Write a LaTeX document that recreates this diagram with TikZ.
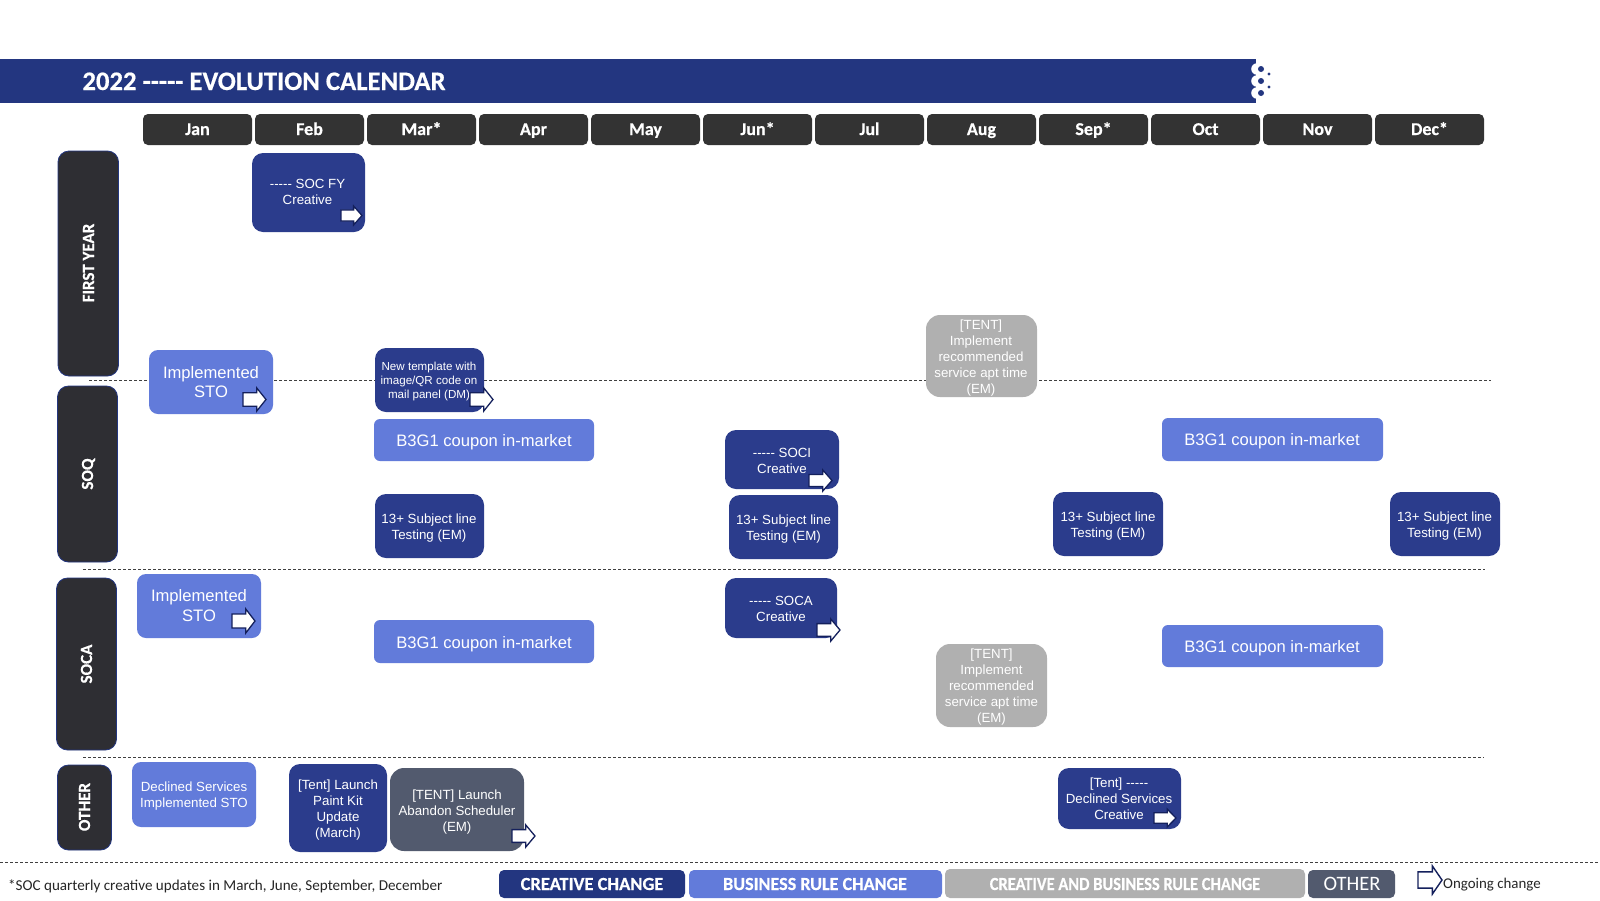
\documentclass[tikz,border=0pt]{standalone}
\usepackage{fontspec}
\newfontfamily\arl{Liberation Sans}
\newfontfamily\carl{Carlito}[BoldFeatures={FakeBold=0.5}]
\setmainfont{Liberation Sans}
\definecolor{navy}{HTML}{2B3C8C}
\definecolor{barblue}{HTML}{233680}
\definecolor{midblue}{HTML}{627BDA}
\definecolor{greybox}{HTML}{B0B0B0}
\definecolor{slatebox}{HTML}{525A6E}
\definecolor{darkbox}{HTML}{333333}
\definecolor{sidebox}{HTML}{2E2E33}
\definecolor{arrowline}{HTML}{14205C}
\tikzset{
  navybox/.style={rounded corners=11pt,fill=navy},
  bluebox/.style={rounded corners=9pt,fill=midblue},
  couponbox/.style={rounded corners=6pt,fill=midblue},
  greyfill/.style={rounded corners=14pt,fill=greybox},
  slatefill/.style={rounded corners=14pt,fill=slatebox},
  monthbox/.style={rounded corners=5pt,fill=darkbox},
  sidefill/.style={rounded corners=11pt,fill=sidebox,draw=barblue,line width=0.8pt},
  boxtext/.style={text=white,align=center,inner sep=0pt,yshift=-1.5pt,font=\arl\fontsize{13.3}{16}\selectfont},
  smalltext/.style={boxtext,font=\arl\fontsize{11.6}{14}\selectfont},
  largetext/.style={boxtext,yshift=1.5pt,font=\arl\fontsize{16.6}{19.6}\selectfont},
  coupontext/.style={boxtext,font=\arl\fontsize{16.6}{20}\selectfont},
  monthtext/.style={text=white,inner sep=0pt,text height=12pt,text depth=0pt,font=\carl\bfseries\fontsize{18}{20}\selectfont},
  sidetext/.style={text=white,inner sep=0pt,rotate=90,text height=12pt,text depth=0pt,font=\carl\bfseries\fontsize{17}{20}\selectfont},
  legendtext/.style={text=white,inner sep=0pt,text height=12pt,text depth=0pt,font=\carl\fontsize{18.5}{20}\selectfont},
  notetext/.style={text=black!85,inner sep=0pt,text height=10pt,text depth=0pt,font=\carl\fontsize{15.1}{16}\selectfont},
  divider/.style={draw=black!75,line width=0.7pt,dash pattern=on 3.2pt off 1.8pt},
  flowarrow/.style={draw=arrowline,fill=white,line width=1.3pt,line join=miter},
  openarrow/.style={draw=arrowline,fill=white,line width=1.4pt,line join=miter},
}
% \bx{style}{x1}{y1}{x2}{y2}
\newcommand{\bx}[5]{\path[#1] (#2,#3) rectangle (#4,#5);}
% \flow{style}{x1}{y1}{x2}{y2}
\newcommand{\flow}[5]{%
  \draw[#1] (#2,{#3+(#5-#3)*0.21}) -- ({#2+(#4-#2)*0.6},{#3+(#5-#3)*0.21})
    -- ({#2+(#4-#2)*0.6},#3) -- (#4,{(#3+#5)/2})
    -- ({#2+(#4-#2)*0.6},#5) -- ({#2+(#4-#2)*0.6},{#3+(#5-#3)*0.79})
    -- (#2,{#3+(#5-#3)*0.79}) -- cycle;
}
\begin{document}
\begin{tikzpicture}[x=1pt,y=-1pt]
\useasboundingbox (0,0) rectangle (1600,900);
\fill[white] (0,0) rectangle (1600,900);

% dividers
\coordinate (d1a) at (89,380);  \coordinate (d1b) at (1491,380);
\coordinate (d2a) at (83,569);  \coordinate (d2b) at (1485,569);
\coordinate (d3a) at (83,757);  \coordinate (d3b) at (1484,757);
\coordinate (d4a) at (0,862);   \coordinate (d4b) at (1600,862);
\draw[divider] (d1a) -- (d1b);
\draw[divider] (d2a) -- (d2b);
\draw[divider] (d3a) -- (d3b);
\draw[divider] (d4a) -- (d4b);

% title bar
\fill[barblue] (0,59) rectangle (1256,103);
\foreach \yy in {69,81,93}{
  \fill[white] (1257,\yy) circle (5.8);
  \fill[barblue] (1261,\yy) circle (3);
}
\fill[barblue] (1269,74) circle (1.6);
\fill[barblue] (1269,87) circle (1.6);
\node[text=white,inner sep=0pt,text height=17pt,text depth=0pt,font=\carl\bfseries\fontsize{26.7}{28}\selectfont] (title) at (264,81.5) {2022 ----- EVOLUTION CALENDAR};

% months
\foreach \nm [count=\ii from 0] in {Jan,Feb,Mar*,Apr,May,Jun*,Jul,Aug,Sep*,Oct,Nov,Dec*}{
  \pgfmathsetmacro{\xa}{143+112*\ii}
  \pgfmathsetmacro{\xb}{\xa+109}
  \pgfmathsetmacro{\xc}{\xa+54.5}
  \path[monthbox] (\xa,114) rectangle (\xb,145);
  \node[monthtext] (month\ii) at (\xc,129) {\nm};
}

% side labels
\bx{sidefill}{58}{151}{118.5}{376}
\bx{sidefill}{57.5}{386}{117.5}{562}
\bx{sidefill}{56.5}{578}{116.5}{750}
\bx{sidefill}{57.5}{765}{111.5}{850}
\node[sidetext] (lFY) at (88,263) {FIRST YEAR};
\node[sidetext] (lSOQ) at (87,474) {SOQ};
\node[sidetext] (lSOCA) at (86,664) {SOCA};
\node[sidetext] (lOTH) at (84,807) {OTHER};

% FIRST YEAR row
\bx{navybox}{252}{153}{365}{232}
\node[boxtext] (socfy) at (307.5,190.5) {----- SOC FY\\Creative};
\flow{flowarrow}{341}{206}{362}{225}

\bx{greyfill}{926}{315}{1037}{397}
\node[boxtext] (tent1) at (981,357) {[TENT]\\Implement\\recommended\\service apt time\\(EM)};

% SOQ row
\bx{bluebox}{149}{350}{273}{414}
\node[largetext] (sto1) at (211,382) {Implemented\\STO};
\flow{flowarrow}{243}{388}{266}{411}

\bx{navybox}{375}{348}{484}{412}
\node[smalltext,yshift=1pt] (tmpl) at (429,380.5) {New template with\\image/QR code on\\mail panel (DM)};
\flow{flowarrow}{470}{388}{493}{411}

\bx{couponbox}{374}{419}{594}{461}
\node[coupontext] (cp1) at (484,440.5) {B3G1 coupon in-market};
\bx{couponbox}{1162}{418}{1383}{461}
\node[coupontext] (cp2) at (1272,439.5) {B3G1 coupon in-market};

\bx{navybox}{375}{494}{484}{558}
\node[boxtext] (sl1) at (429,527) {13+ Subject line\\Testing (EM)};
\bx{navybox}{725}{430}{839}{489}
\node[boxtext] (soci) at (782,459.5) {----- SOCI\\Creative};
\flow{flowarrow}{809}{470}{832}{491}
\bx{navybox}{729}{495}{838}{559}
\node[boxtext] (sl2) at (783.5,527.5) {13+ Subject line\\Testing (EM)};
\bx{navybox}{1053}{492}{1163}{556}
\node[boxtext] (sl3) at (1108,524.5) {13+ Subject line\\Testing (EM)};
\bx{navybox}{1390}{492}{1500}{556}
\node[boxtext] (sl4) at (1444.5,524.5) {13+ Subject line\\Testing (EM)};

% SOCA row
\bx{bluebox}{137}{574}{261}{638}
\node[largetext] (sto2) at (199,605.6) {Implemented\\STO};
\flow{flowarrow}{232}{609}{255}{633}
\bx{navybox}{725}{578}{837}{638}
\node[boxtext] (soca) at (781,607) {----- SOCA\\Creative};
\flow{flowarrow}{817}{619}{840}{641}
\bx{couponbox}{374}{620}{594}{663}
\node[coupontext] (cp3) at (484,642.5) {B3G1 coupon in-market};
\bx{couponbox}{1162}{625}{1383}{667}
\node[coupontext] (cp4) at (1272,646.5) {B3G1 coupon in-market};
\bx{greyfill}{936}{644}{1047}{727}
\node[boxtext] (tent2) at (991.5,686) {[TENT]\\Implement\\recommended\\service apt time\\(EM)};

% OTHER row
\bx{bluebox}{132}{762}{256}{827}
\node[boxtext] (decl) at (194,795) {Declined Services\\Implemented STO};
\bx{navybox}{289}{764}{387}{852}
\node[boxtext] (paint) at (338,809) {[Tent] Launch\\Paint Kit\\Update\\(March)};
\bx{slatefill}{390}{768}{524}{851}
\node[boxtext] (aband) at (457,811) {[TENT] Launch\\Abandon Scheduler\\(EM)};
\flow{flowarrow}{512}{825}{535}{847}
\bx{navybox}{1058}{768}{1181}{829}
\node[boxtext] (tdecl) at (1119,797) {[Tent] -----\\Declined Services\\Creative};
\flow{flowarrow}{1154}{809}{1176}{827}

% legend
\node[notetext,anchor=west] (foot) at (8,885) {*SOC quarterly creative updates in March, June, September, December};
\path[rounded corners=5pt,fill=barblue] (499,870) rectangle (685,898);
\node[legendtext] (l1) at (592,884) {\bfseries CREATIVE CHANGE};
\path[rounded corners=5pt,fill=midblue] (689,870) rectangle (942,898);
\node[legendtext] (l2) at (815,884) {\bfseries\scalebox{0.98}[1]{BUSINESS RULE CHANGE}};
\path[rounded corners=5pt,fill=greybox] (945,869) rectangle (1305,898);
\node[legendtext] (l3) at (1125,884) {\bfseries\scalebox{0.89}[1]{CREATIVE AND BUSINESS RULE CHANGE}};
\path[rounded corners=5pt,fill=slatebox] (1308,870) rectangle (1395,898);
\node[legendtext,font=\carl\fontsize{20.5}{22}\selectfont] (l4) at (1352,884) {OTHER};
\flow{openarrow}{1418}{866}{1442}{894}
\node[notetext,anchor=west,font=\carl\fontsize{14.9}{16}\selectfont] (ong) at (1443,883) {Ongoing change};
\end{tikzpicture}
\end{document}
